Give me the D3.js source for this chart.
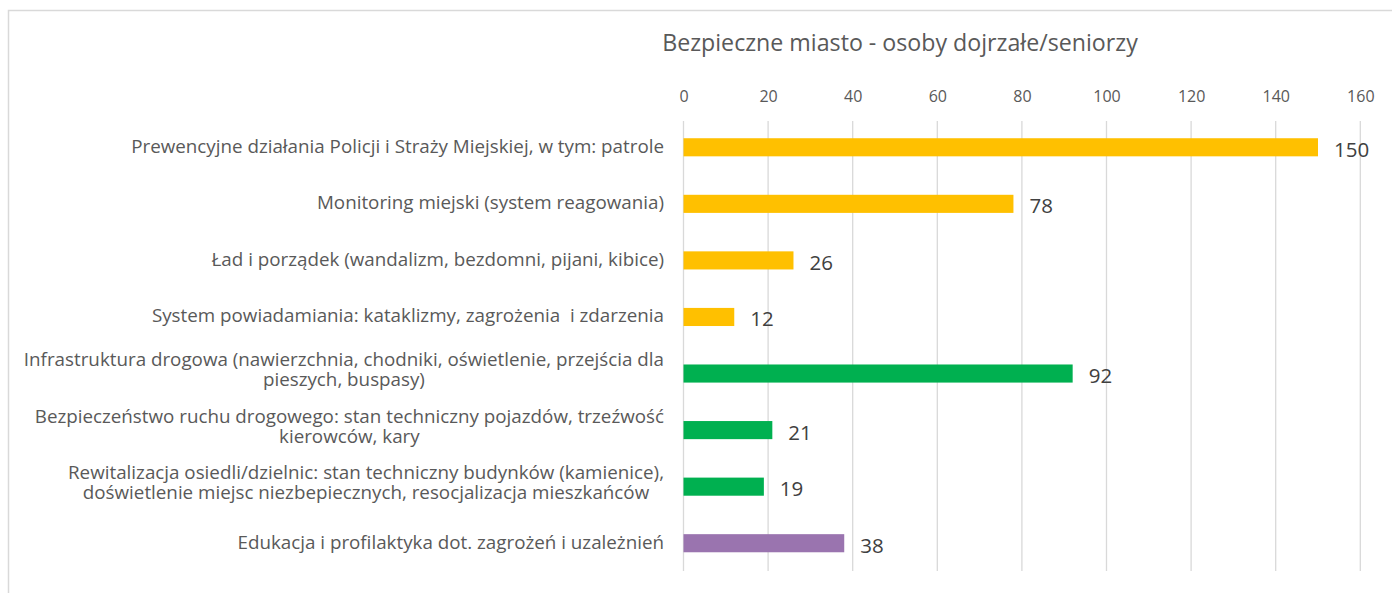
<!DOCTYPE html>
<html>
<head>
<meta charset="utf-8">
<script src="https://cdn.jsdelivr.net/npm/d3@7/dist/d3.min.js"></script>
<style>
  html, body { margin: 0; padding: 0; background: #fff; }
  svg { display: block; }
  text { font-family: "Open Sans", Lato, sans-serif; }
</style>
</head>
<body>
<svg id="chart" width="1392" height="593"></svg>
<script>
// Survey answers: "safe city" priorities of mature respondents / seniors
const title = "Bezpieczne miasto - osoby dojrzałe/seniorzy";

const categories = [
  ["Prewencyjne działania Policji i Straży Miejskiej, w tym: patrole"],
  ["Monitoring miejski (system reagowania)"],
  ["Ład i porządek (wandalizm, bezdomni, pijani, kibice)"],
  ["System powiadamiania: kataklizmy, zagrożenia  i zdarzenia"],
  ["Infrastruktura drogowa (nawierzchnia, chodniki, oświetlenie, przejścia dla", "pieszych, buspasy)"],
  ["Bezpieczeństwo ruchu drogowego: stan techniczny pojazdów, trzeźwość", "kierowców, kary"],
  ["Rewitalizacja osiedli/dzielnic: stan techniczny budynków (kamienice),", "doświetlenie miejsc niezbepiecznych, resocjalizacja mieszkańców"],
  ["Edukacja i profilaktyka dot. zagrożeń i uzależnień"]
];
const values = [150, 78, 26, 12, 92, 21, 19, 38];
// thematic group of each answer: policing, roads/buildings, education
const groups = ["a", "a", "a", "a", "b", "b", "b", "c"];
const groupColors = { a: "#FFC000", b: "#00B050", c: "#9A74AF" };
const tickValues = [0, 20, 40, 60, 80, 100, 120, 140, 160];

const svg = d3.select("#chart");

// outer chart frame
svg.append("rect")
  .attr("x", 8.5).attr("y", 10.5)
  .attr("width", 1420).attr("height", 620)
  .attr("fill", "none")
  .attr("stroke", "#d9d9d9")
  .attr("stroke-width", 1.5);

const x = d3.scaleLinear().domain([0, 160]).range([683.5, 1360.3]);
const y = d3.scaleBand()
  .domain(d3.range(categories.length))
  .range([119, 571.5])
  .paddingInner(0.68)
  .paddingOuter(0.34);

// title
svg.append("text")
  .attr("x", 900).attr("y", 51)
  .attr("text-anchor", "middle")
  .attr("font-size", 23.2)
  .attr("fill", "#595959")
  .text(title);

// top axis with vertical gridlines
const axis = d3.axisTop(x).tickValues(tickValues).tickSize(0).tickPadding(0);
const gAxis = svg.append("g").attr("transform", "translate(0,102)").call(axis);
gAxis.select(".domain").remove();
gAxis.selectAll("text")
  .attr("font-size", 16)
  .attr("fill", "#595959")
  .style("font-family", "'Open Sans', Lato, sans-serif");

svg.append("g")
  .selectAll("line")
  .data(tickValues)
  .join("line")
  .attr("x1", d => x(d)).attr("x2", d => x(d))
  .attr("y1", 121).attr("y2", 571)
  .attr("stroke", "#d9d9d9")
  .attr("stroke-width", 1.3);

// bars
svg.append("g")
  .selectAll("rect")
  .data(values)
  .join("rect")
  .attr("x", x(0))
  .attr("y", (d, i) => y(i))
  .attr("width", d => x(d) - x(0))
  .attr("height", y.bandwidth())
  .attr("fill", (d, i) => groupColors[groups[i]]);

// value labels
svg.append("g")
  .selectAll("text")
  .data(values)
  .join("text")
  .attr("x", d => x(d) + 16)
  .attr("y", (d, i) => y(i) + y.bandwidth() / 2 + 9.5)
  .attr("font-size", 20.5)
  .attr("fill", "#404040")
  .text(d => d);

// category labels: one text per category, wrapped lines as tspans,
// block right aligned, lines centred within the block
const labelRight = 664;
const lineGap = 20;
const gLabels = svg.append("g");
categories.forEach((lines, i) => {
  const cy = y(i) + y.bandwidth() / 2;
  const t = gLabels.append("text")
    .attr("font-size", 18.8)
    .attr("fill", "#595959")
    .style("white-space", "pre");
  const spans = lines.map((ln, j) => t.append("tspan")
    .attr("y", cy + 5.5 + (j - (lines.length - 1) / 2) * lineGap - (lines.length - 1) * 3)
    .text(ln));
  if (lines.length === 1) {
    t.attr("text-anchor", "end");
    spans[0].attr("x", labelRight);
  } else {
    t.attr("text-anchor", "middle");
    const w = d3.max(spans, s => s.node().getComputedTextLength());
    spans.forEach(s => s.attr("x", labelRight - w / 2));
  }
});
</script>
</body>
</html>
